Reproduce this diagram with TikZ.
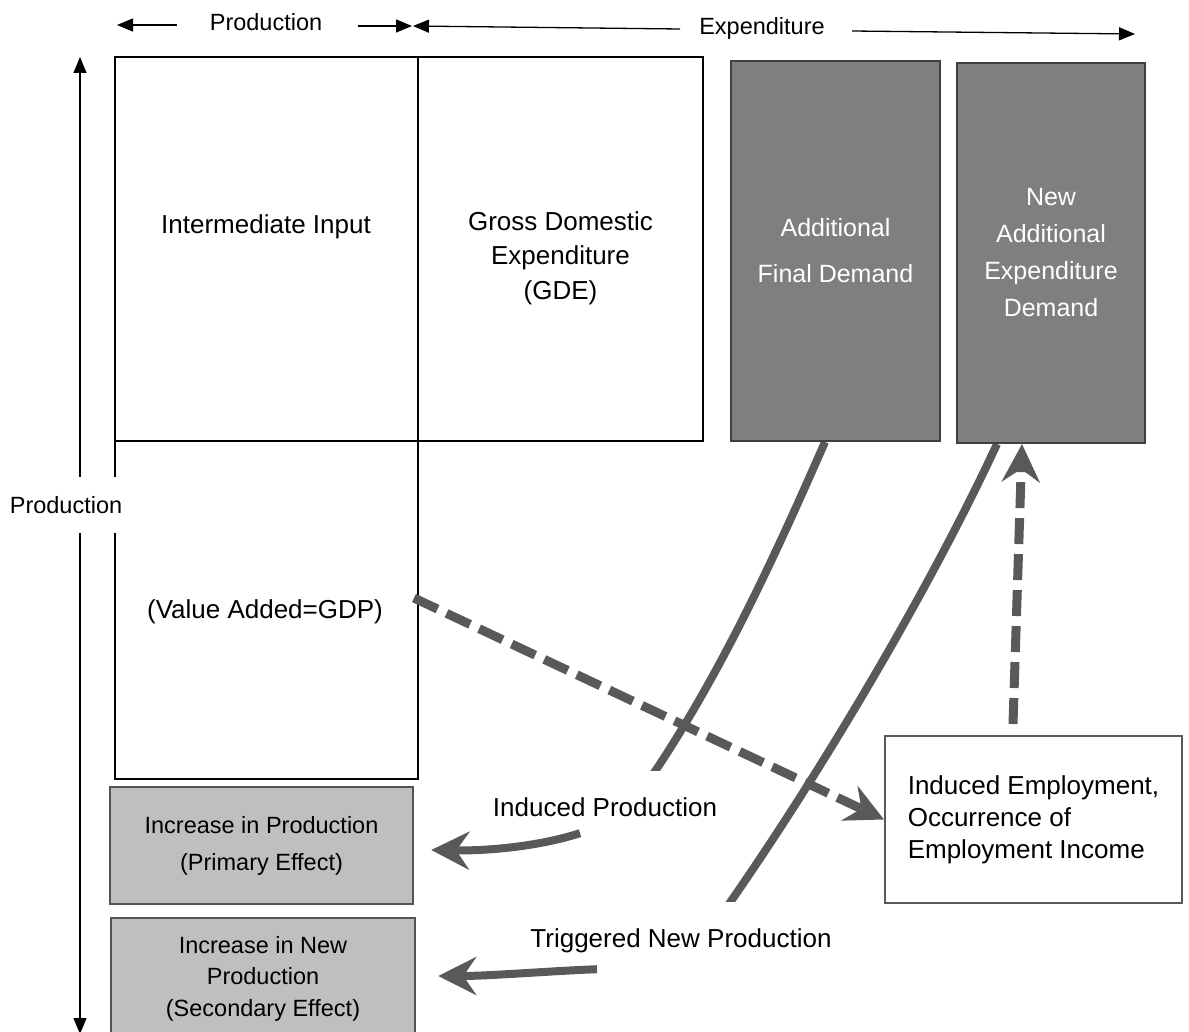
\documentclass[tikz,border=0pt]{standalone}
\usepackage{fontspec}
\setmainfont{Liberation Sans}
\usepackage{tikz}
\usetikzlibrary{arrows.meta}
\usetikzlibrary{backgrounds}
\usetikzlibrary{positioning}
\definecolor{boxdark}{HTML}{7F7F7F}
\definecolor{linedark}{HTML}{404040}
\definecolor{boxlight}{HTML}{BFBFBF}
\definecolor{flowgray}{HTML}{595959}

\begin{document}
\begin{tikzpicture}[x=1pt, y=-1pt,
    boxdim/.style n args={2}{minimum width=#1, minimum height=#2},
    plainbox/.style={draw=black, line width=2pt, fill=white, inner sep=0pt},
    darkbox/.style={draw=linedark, line width=2pt, fill=boxdark, text=white, align=center, inner sep=0pt},
    lightbox/.style={draw=linedark!90, line width=2.5pt, fill=boxlight, align=center, inner sep=0pt},
    empbox/.style={draw=flowgray, line width=2pt, fill=white, inner sep=0pt},
    bigtxt/.style={font=\fontsize{26}{34.5}\selectfont, inner sep=0pt},
    axistxt/.style={font=\fontsize{23.5}{28}\selectfont, inner sep=0pt},
    flowlabel/.style={fill=white, font=\fontsize{26}{31}\selectfont, text height=41.5pt, text depth=0pt, inner ysep=4pt, inner xsep=5pt},
    axisarrow/.style={draw=black, line width=1.3pt, -{Triangle[length=16pt, width=13pt]}},
    flow/.style={draw=flowgray, line width=8pt},
    flowarrow/.style={draw=flowgray, line width=8pt, -{Stealth[length=38pt, width=38pt, inset=13pt]}},
    flowdash/.style={draw=flowgray, line width=9pt, dash pattern=on 26pt off 10pt, -{Stealth[length=38pt, width=38pt, inset=13pt]}}]
  \useasboundingbox (0,0) rectangle (1189,1032);
  \clip (0,0) rectangle (1189,1032);

  \node[axistxt] (ptop) at (266,22) {Production};
  \node[axistxt] (etop) at (762,28) {Expenditure};
  \coordinate (a1) at (177,25);
  \coordinate (a2) at (117,25);
  \coordinate (a3) at (358,26);
  \coordinate (a4) at (412,26);
  \coordinate (a5) at (680,29);
  \coordinate (a6) at (413,26);
  \coordinate (a7) at (852,31);
  \coordinate (a8) at (1135,34);
  \coordinate (v1) at (80,477);
  \coordinate (v2) at (80,57);
  \coordinate (v3) at (80,533);
  \coordinate (v4) at (80,1034);
  \foreach \s/\e in {a1/a2, a3/a4, a5/a6, a7/a8, v1/v2, v3/v4}
    \draw[axisarrow] (\s) -- (\e);

  \node[plainbox, boxdim={303}{384}] (ii) at (266.5,249) {};
  \node[plainbox, boxdim={285}{384}] (gde) at (560.5,249) {};
  \node[plainbox, boxdim={303}{338}] (va) at (266.5,610) {};
  \node[bigtxt] (iitxt) at (266,227) {Intermediate Input};
  \node[bigtxt, align=center] (gdetxt) at (560.5,258) {Gross Domestic\\Expenditure\\(GDE)};
  \node[bigtxt] (vatxt) at (265,612) {(Value Added=GDP)};
  \node[axistxt, fill=white, text height=17pt, text depth=0pt, inner ysep=19.5pt, inner xsep=1pt] (pleft) at (66,505) {Production};

  \node[darkbox, boxdim={209}{380}, font=\fontsize{25}{46}\selectfont] (afd) at (835.5,251) {Additional\\Final Demand};
  \node[darkbox, boxdim={188}{380}, font=\fontsize{25}{37}\selectfont] (naed) at (1051,253) {New\\Additional\\Expenditure\\Demand};

  \node[lightbox, boxdim={303}{117}, font=\fontsize{23.5}{37}\selectfont] (gr1) at (261.5,845.5) {Increase in Production\\(Primary Effect)};
  \node[lightbox, boxdim={304}{121}, font=\fontsize{23.5}{31.5}\selectfont] (gr2) at (263,978.5) {Increase in New\\Production\\(Secondary Effect)};

  \node[empbox, boxdim={297}{167}, align=left, font=\fontsize{26}{32}\selectfont] (ie) at (1033.5,819.5) {Induced Employment,\\Occurrence of\\Employment Income};

  \node[flowlabel, anchor=base] (ipl) at (605,816.5) {Induced Production};
  \node[flowlabel, anchor=base] (tnp) at (681,947.5) {Triggered New Production};

  \begin{pgfonlayer}{background}
    \draw[flow] ([xshift=-10.5pt]afd.south) .. controls (777,551) and (711,700) .. ([xshift=18pt]ipl.base);
    \draw[flow] ([xshift=-54pt]naed.south) .. controls (928,593) and (807,798) .. ([xshift=17pt]tnp.base);
  \end{pgfonlayer}

  \draw[flowdash] ([xshift=-5pt,yshift=12pt]va.east) -- (ie.west);
  \draw[flowdash] ([xshift=-20.5pt,yshift=11pt]ie.north) -- ([xshift=-29pt]naed.south);

  \draw[flowarrow] ([xshift=-25pt,yshift=-12.5pt]ipl.south) .. controls (540,846) and (490,851) .. ([xshift=17pt,yshift=-4.5pt]gr1.east);
  \draw[flowarrow] ([xshift=-84pt,yshift=-17.5pt]tnp.south) .. controls (550,971) and (490,976) .. ([xshift=22pt,yshift=2.5pt]gr2.east);
\end{tikzpicture}
\end{document}
